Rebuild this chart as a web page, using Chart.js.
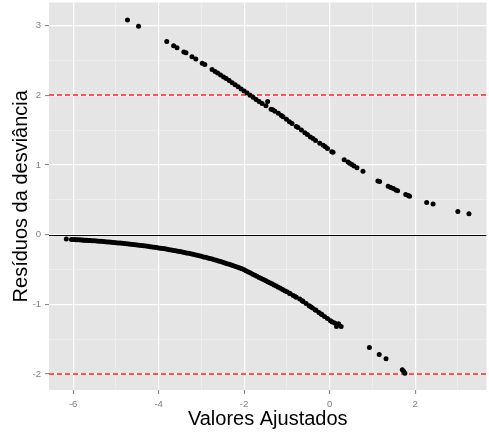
<!DOCTYPE html>
<html>
<head>
<meta charset="utf-8">
<script src="https://cdn.jsdelivr.net/npm/chart.js@4.4.1/dist/chart.umd.min.js"></script>
<style>
  html, body { margin: 0; padding: 0; background: #fff; }
  #wrap { width: 489px; height: 436px; position: relative; }
</style>
</head>
<body>
<div id="wrap"><canvas id="residuosChart"></canvas></div>
<script>
// Resíduos da desviância vs valores ajustados — [ajustado, resíduo]
// observações com resposta 1 (resíduos positivos)
const residuosResp1 = [
  [-4.73, 3.08], [-4.47, 2.99], [-3.81, 2.77], [-3.65, 2.71], [-3.57, 2.68],
  [-3.41, 2.62], [-3.36, 2.61], [-3.22, 2.55], [-3.13, 2.52], [-2.98, 2.46],
  [-2.92, 2.44], [-2.75, 2.37], [-2.68, 2.34], [-2.62, 2.32], [-2.55, 2.29],
  [-2.48, 2.26], [-2.42, 2.24], [-2.35, 2.21], [-2.28, 2.18], [-2.21, 2.15],
  [-2.14, 2.12], [-2.07, 2.09], [-2.00, 2.06], [-1.93, 2.03], [-1.86, 2.00],
  [-1.79, 1.97], [-1.72, 1.94], [-1.65, 1.91], [-1.58, 1.88], [-1.49, 1.85],
  [-1.45, 1.91], [-1.37, 1.80], [-1.33, 1.79], [-1.28, 1.77], [-1.20, 1.74],
  [-1.13, 1.71], [-1.09, 1.69], [-1.01, 1.655], [-0.94, 1.62], [-0.88, 1.595],
  [-0.78, 1.55], [-0.74, 1.535], [-0.66, 1.50], [-0.58, 1.46], [-0.52, 1.435],
  [-0.45, 1.40], [-0.39, 1.38], [-0.33, 1.35], [-0.23, 1.31], [-0.15, 1.28],
  [-0.10, 1.26], [-0.05, 1.235], [0.05, 1.19], [0.08, 1.18], [0.34, 1.075],
  [0.43, 1.04], [0.47, 1.025], [0.52, 1.005], [0.57, 0.985], [0.64, 0.96],
  [0.78, 0.91], [1.13, 0.77], [1.17, 0.76], [1.37, 0.695], [1.43, 0.675],
  [1.49, 0.66], [1.55, 0.64], [1.59, 0.63], [1.78, 0.575], [1.84, 0.56],
  [1.87, 0.55], [2.27, 0.46], [2.42, 0.44], [3.00, 0.33], [3.26, 0.30]
];

// observações com resposta 0 (resíduos negativos)
const residuosResp0 = [
  [-6.16, -0.065], [-6.04, -0.069], [-5.98, -0.071], [-5.94, -0.073], [-5.90, -0.074],
  [-5.86, -0.075], [-5.82, -0.077], [-5.78, -0.079], [-5.75, -0.080], [-5.71, -0.081],
  [-5.68, -0.083], [-5.64, -0.084], [-5.60, -0.086], [-5.55, -0.088], [-5.50, -0.090],
  [-5.45, -0.093], [-5.40, -0.095], [-5.35, -0.097], [-5.30, -0.100], [-5.25, -0.102],
  [-5.20, -0.105], [-5.15, -0.108], [-5.10, -0.110], [-5.05, -0.113], [-5.00, -0.116],
  [-4.95, -0.119], [-4.90, -0.122], [-4.85, -0.125], [-4.80, -0.128], [-4.75, -0.131],
  [-4.70, -0.135], [-4.65, -0.138], [-4.60, -0.141], [-4.55, -0.145], [-4.50, -0.149],
  [-4.45, -0.152], [-4.40, -0.156], [-4.35, -0.160], [-4.30, -0.164], [-4.25, -0.168],
  [-4.20, -0.173], [-4.15, -0.177], [-4.10, -0.181], [-4.05, -0.186], [-4.00, -0.191],
  [-3.95, -0.195], [-3.90, -0.200], [-3.85, -0.205], [-3.80, -0.210], [-3.75, -0.216],
  [-3.70, -0.221], [-3.65, -0.227], [-3.60, -0.232], [-3.55, -0.238], [-3.50, -0.244],
  [-3.45, -0.250], [-3.40, -0.256], [-3.35, -0.263], [-3.30, -0.269], [-3.25, -0.276],
  [-3.20, -0.283], [-3.15, -0.290], [-3.10, -0.297], [-3.05, -0.304], [-3.00, -0.312],
  [-2.95, -0.320], [-2.90, -0.327], [-2.85, -0.335], [-2.80, -0.344], [-2.75, -0.352],
  [-2.70, -0.361], [-2.65, -0.370], [-2.60, -0.379], [-2.55, -0.388], [-2.50, -0.397],
  [-2.45, -0.407], [-2.40, -0.417], [-2.35, -0.427], [-2.30, -0.437], [-2.25, -0.448],
  [-2.20, -0.458], [-2.15, -0.470], [-2.10, -0.481], [-2.05, -0.492], [-2.00, -0.504],
  [-1.95, -0.521], [-1.90, -0.538], [-1.85, -0.553], [-1.80, -0.568], [-1.75, -0.583],
  [-1.70, -0.599], [-1.65, -0.615], [-1.60, -0.630], [-1.55, -0.645], [-1.50, -0.660],
  [-1.45, -0.675], [-1.40, -0.691], [-1.35, -0.706], [-1.30, -0.722], [-1.25, -0.738],
  [-1.20, -0.755], [-1.15, -0.771], [-1.10, -0.788], [-1.05, -0.805], [-1.00, -0.822],
  [-0.94, -0.842], [-0.92, -0.849], [-0.85, -0.874], [-0.80, -0.892], [-0.78, -0.899],
  [-0.70, -0.925], [-0.64, -0.951], [-0.62, -0.960], [-0.55, -0.990], [-0.48, -1.020],
  [-0.44, -1.037], [-0.40, -1.053], [-0.34, -1.078], [-0.32, -1.087], [-0.25, -1.118],
  [-0.20, -1.140], [-0.18, -1.148], [-0.12, -1.175], [-0.05, -1.205], [0.02, -1.235],
  [0.06, -1.255], [0.12, -1.27], [0.16, -1.32], [0.21, -1.28], [0.27, -1.32],
  [0.93, -1.62], [1.16, -1.72], [1.32, -1.78], [1.70, -1.94], [1.73, -1.96],
  [1.76, -1.99]
];

const xTickLabels = [-6, -4, -2, 0, 2];
const yTickLabels = [-2, -1, 0, 1, 2, 3];
const limitesResiduo = [-2, 2];   // linhas tracejadas vermelhas
const linhaZero = 0;

const FONT = "'Liberation Sans', Arial, Helvetica, sans-serif";
Chart.defaults.font.family = FONT;

// fundo cinza do painel
const panelBg = {
  id: 'panelBg',
  beforeDraw(chart) {
    const { ctx, chartArea: a } = chart;
    ctx.save();
    ctx.fillStyle = '#E5E5E5';
    ctx.fillRect(a.left, a.top, a.right - a.left, a.bottom - a.top);
    ctx.restore();
  }
};

// linhas horizontais de referência (0 e ±2)
const refLines = {
  id: 'refLines',
  beforeDatasetsDraw(chart) {
    const { ctx, chartArea: a, scales: { y } } = chart;
    ctx.save();
    ctx.beginPath();
    ctx.rect(a.left, a.top, a.right - a.left, a.bottom - a.top);
    ctx.clip();
    ctx.lineWidth = 1.6;
    ctx.strokeStyle = '#FF2020';
    ctx.setLineDash([5, 3]);
    limitesResiduo.forEach(v => {
      const py = Math.round(y.getPixelForValue(v));
      ctx.beginPath();
      ctx.moveTo(a.left, py);
      ctx.lineTo(a.right, py);
      ctx.stroke();
    });
    ctx.setLineDash([]);
    ctx.lineWidth = 1;
    ctx.strokeStyle = '#000000';
    const p0 = Math.round(y.getPixelForValue(linhaZero)) + 0.5;
    ctx.beginPath();
    ctx.moveTo(a.left, p0);
    ctx.lineTo(a.right, p0);
    ctx.stroke();
    ctx.restore();
  }
};

const isMajorX = c => c.tick && xTickLabels.includes(c.tick.value);
const isMajorY = c => c.tick && yTickLabels.includes(c.tick.value);

const pointStyle = {
  pointRadius: 2.5,
  pointHoverRadius: 2.5,
  pointBackgroundColor: '#000000',
  pointBorderWidth: 0,
  showLine: false
};

new Chart(document.getElementById('residuosChart'), {
  type: 'scatter',
  data: {
    datasets: [
      { label: 'resposta 1', data: residuosResp1.map(([x, y]) => ({ x, y })), ...pointStyle },
      { label: 'resposta 0', data: residuosResp0.map(([x, y]) => ({ x, y })), ...pointStyle }
    ]
  },
  options: {
    responsive: true,
    maintainAspectRatio: false,
    animation: false,
    layout: { padding: { top: 1, right: 2, left: 0, bottom: 0 } },
    plugins: {
      legend: { display: false },
      tooltip: { enabled: false }
    },
    scales: {
      x: {
        type: 'linear',
        min: -6.565,
        max: 3.67,
        afterFit: s => { s.height = 46; s.paddingLeft = 0; s.paddingRight = 0; },
        border: { display: false },
        grid: {
          color: c => isMajorX(c) ? '#FFFFFF' : '#F2F2F2',
          lineWidth: c => isMajorX(c) ? 1.2 : 0.7,
          tickColor: c => isMajorX(c) ? '#7F7F7F' : 'rgba(0,0,0,0)',
          tickLength: 4,
          tickWidth: 1
        },
        ticks: {
          stepSize: 1,
          includeBounds: false,
          autoSkip: false,
          maxRotation: 0,
          padding: 5,
          color: '#7F7F7F',
          font: { size: 9.6 },
          callback: v => xTickLabels.includes(v) ? String(v) : ''
        },
        title: {
          display: true,
          text: 'Valores Ajustados',
          color: '#000000',
          font: { size: 20 },
          padding: { top: 0, bottom: 5 }
        }
      },
      y: {
        type: 'linear',
        min: -2.23,
        max: 3.33,
        afterFit: s => { s.width = 49; s.paddingTop = 0; s.paddingBottom = 0; },
        border: { display: false },
        grid: {
          color: c => isMajorY(c) ? '#FFFFFF' : '#F2F2F2',
          lineWidth: c => isMajorY(c) ? 1.2 : 0.7,
          tickColor: c => isMajorY(c) ? '#7F7F7F' : 'rgba(0,0,0,0)',
          tickLength: 4,
          tickWidth: 1
        },
        ticks: {
          stepSize: 0.5,
          includeBounds: false,
          autoSkip: false,
          padding: 4,
          color: '#7F7F7F',
          font: { size: 9.6 },
          callback: v => yTickLabels.includes(v) ? String(v) : ''
        },
        title: {
          display: true,
          text: 'Resíduos da desviância',
          color: '#000000',
          font: { size: 20 },
          padding: { top: 9.5, bottom: 0 }
        }
      }
    }
  },
  plugins: [panelBg, refLines]
});
</script>
</body>
</html>
